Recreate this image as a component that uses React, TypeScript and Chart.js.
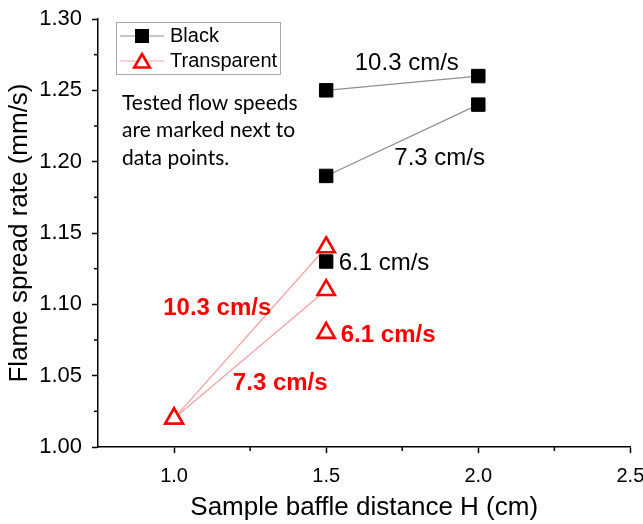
import React, { useEffect, useRef } from "react";
import { Chart, registerables } from "chart.js";

Chart.register(...registerables);

// ---- data ----
const seriesNames = ["Black", "Transparent"];
const flowSpeeds = ["10.3 cm/s", "7.3 cm/s", "6.1 cm/s"];

const blackX10 = [1.5, 2.0];
const blackY10 = [1.25, 1.26];
const blackX7 = [1.5, 2.0];
const blackY7 = [1.19, 1.24];
const blackX6 = [1.5];
const blackY6 = [1.13];

const transX10 = [1.0, 1.5];
const transY10 = [1.02, 1.14];
const transX7 = [1.0, 1.5];
const transY7 = [1.02, 1.11];
const transX6 = [1.5];
const transY6 = [1.08];

const xTicks = [1.0, 1.5, 2.0, 2.5];
const xMinorTicks = [1.25, 1.75, 2.25];
const yTicks = [1.0, 1.05, 1.1, 1.15, 1.2, 1.25, 1.3];
const yMinorTicks = [1.025, 1.075, 1.125, 1.175, 1.225, 1.275];

const xTitle = "Sample baffle distance H (cm)";
const yTitle = "Flame spread rate (mm/s)";
const noteLines = ["Tested flow speeds", "are marked next to", "data points."];

// label anchors in data space
const blackLabelX = [1.765, 1.873, 1.541];
const blackLabelY = [1.269, 1.2026, 1.129];
const redLabelX = [1.142, 1.349, 1.548];
const redLabelY = [1.0974, 1.0449, 1.0785];

const ARIAL = "'Liberation Sans', Arial, sans-serif";
const BLACK_LINE = "#8e8e8e";
const RED_LINE = "#f3a0a0";
const RED = "#ff0000";

const pts = (xs: number[], ys: number[]) => xs.map((x, i) => ({ x, y: ys[i] }));

function blackDs(xs: number[], ys: number[]) {
  return {
    label: seriesNames[0],
    data: pts(xs, ys),
    showLine: true,
    borderColor: BLACK_LINE,
    borderWidth: 1.2,
    pointStyle: "rect",
    pointRadius: 9.5,
    pointBackgroundColor: "#000",
    pointBorderColor: "#000",
    pointBorderWidth: 1,
  };
}
function transDs(xs: number[], ys: number[]) {
  return {
    label: seriesNames[1],
    data: pts(xs, ys),
    showLine: true,
    borderColor: RED_LINE,
    borderWidth: 1.2,
    pointStyle: "triangle",
    pointRadius: 10,
    pointBackgroundColor: "#fff",
    pointBorderColor: RED,
    pointBorderWidth: 2.6,
  };
}

const decorPlugin = {
  id: "decor",
  afterDraw(chart: any) {
    const ctx = chart.ctx as CanvasRenderingContext2D;
    const xs = chart.scales.x;
    const ys = chart.scales.y;
    const area = chart.chartArea;
    ctx.save();
    // minor ticks
    ctx.strokeStyle = "#000";
    ctx.lineWidth = 1.5;
    xMinorTicks.forEach((v) => {
      const px = xs.getPixelForValue(v);
      ctx.beginPath();
      ctx.moveTo(px, area.bottom);
      ctx.lineTo(px, area.bottom + 4);
      ctx.stroke();
    });
    yMinorTicks.forEach((v) => {
      const py = ys.getPixelForValue(v);
      ctx.beginPath();
      ctx.moveTo(area.left, py);
      ctx.lineTo(area.left - 4, py);
      ctx.stroke();
    });

    // legend
    const lx = area.left + 18;
    const ly = area.top + 3;
    ctx.strokeStyle = "#a8a8a8";
    ctx.lineWidth = 1;
    ctx.strokeRect(lx + 0.5, ly + 0.5, 164, 52);
    const r1 = ly + 14;
    const r2 = ly + 39;
    ctx.lineWidth = 1.2;
    ctx.strokeStyle = BLACK_LINE;
    ctx.beginPath();
    ctx.moveTo(lx + 4, r1);
    ctx.lineTo(lx + 48, r1);
    ctx.stroke();
    ctx.fillStyle = "#000";
    ctx.fillRect(lx + 19, r1 - 7, 14, 14);
    ctx.strokeStyle = RED_LINE;
    ctx.beginPath();
    ctx.moveTo(lx + 4, r2);
    ctx.lineTo(lx + 48, r2);
    ctx.stroke();
    const tr = 9;
    const tcx = lx + 26;
    const tcy = r2 + 2;
    ctx.beginPath();
    ctx.moveTo(tcx, tcy - tr);
    ctx.lineTo(tcx + tr * Math.sin((2 * Math.PI) / 3), tcy + tr / 2);
    ctx.lineTo(tcx - tr * Math.sin((2 * Math.PI) / 3), tcy + tr / 2);
    ctx.closePath();
    ctx.fillStyle = "#fff";
    ctx.fill();
    ctx.strokeStyle = RED;
    ctx.lineWidth = 2.6;
    ctx.stroke();
    ctx.fillStyle = "#000";
    ctx.font = `20px ${ARIAL}`;
    ctx.textBaseline = "middle";
    ctx.textAlign = "left";
    ctx.fillText(seriesNames[0], lx + 54, r1);
    ctx.fillText(seriesNames[1], lx + 54, r2);

    // note
    ctx.font = "21px Lato, 'Open Sans', sans-serif";
    noteLines.forEach((t, i) => {
      ctx.fillText(t, area.left + 24, area.top + 84 + i * 27.5);
    });

    // labels
    ctx.font = `24px ${ARIAL}`;
    ctx.fillStyle = "#000";
    flowSpeeds.forEach((t, i) => {
      ctx.textAlign = i === 2 ? "left" : "center";
      ctx.fillText(t, xs.getPixelForValue(blackLabelX[i]), ys.getPixelForValue(blackLabelY[i]));
    });
    ctx.font = `bold 24px ${ARIAL}`;
    ctx.fillStyle = RED;
    flowSpeeds.forEach((t, i) => {
      ctx.textAlign = i === 2 ? "left" : "center";
      ctx.fillText(t, xs.getPixelForValue(redLabelX[i]), ys.getPixelForValue(redLabelY[i]));
    });
    ctx.restore();
  },
};

export default function App() {
  const ref = useRef<HTMLCanvasElement>(null);
  useEffect(() => {
    if (!ref.current) return;
    const chart = new Chart(ref.current, {
      type: "scatter",
      data: {
        datasets: [
          blackDs(blackX10, blackY10),
          blackDs(blackX7, blackY7),
          blackDs(blackX6, blackY6),
          transDs(transX10, transY10),
          transDs(transX7, transY7),
          transDs(transX6, transY6),
        ] as any,
      },
      options: {
        animation: false,
        responsive: true,
        maintainAspectRatio: false,
        layout: { padding: { top: 19, right: 12, left: 0, bottom: 0 } },
        plugins: { legend: { display: false }, tooltip: { enabled: false } },
        scales: {
          x: {
            type: "linear",
            min: 0.75,
            max: 2.5,
            afterBuildTicks: (s: any) => {
              s.ticks = xTicks.map((v) => ({ value: v }));
            },
            afterFit: (s: any) => {
              s.height = 77;
              s.paddingLeft = 0;
              s.paddingRight = 0;
            },
            ticks: {
              color: "#000",
              font: { family: ARIAL, size: 20 },
              padding: 11,
              maxRotation: 0,
              autoSkip: false,
              callback: (v: any) => Number(v).toFixed(1),
            },
            grid: { drawOnChartArea: false, drawTicks: true, tickLength: 6, color: "#000", tickColor: "#000", tickWidth: 1.5 },
            border: { display: true, color: "#000", width: 1.5 },
            title: { display: true, text: xTitle, color: "#000", font: { family: ARIAL, size: 26 }, padding: { top: 0, bottom: 1 } },
          },
          y: {
            type: "linear",
            min: 1.0,
            max: 1.3,
            afterBuildTicks: (s: any) => {
              s.ticks = yTicks.map((v) => ({ value: v }));
            },
            afterFit: (s: any) => {
              s.width = 98;
              s.paddingTop = 0;
              s.paddingBottom = 0;
            },
            ticks: {
              color: "#000",
              font: { family: ARIAL, size: 22 },
              padding: 10,
              autoSkip: false,
              callback: (v: any) => Number(v).toFixed(2),
            },
            grid: { drawOnChartArea: false, drawTicks: true, tickLength: 6, color: "#000", tickColor: "#000", tickWidth: 1.5 },
            border: { display: true, color: "#000", width: 1.5 },
            title: { display: true, text: yTitle, color: "#000", font: { family: ARIAL, size: 26 }, padding: { top: 4, bottom: 0 } },
          },
        },
      },
      plugins: [decorPlugin],
    });
    return () => chart.destroy();
  }, []);
  return (
    <div style={{ position: "absolute", left: 0, top: 0, width: 643, height: 524 }}>
      <canvas ref={ref} />
    </div>
  );
}
